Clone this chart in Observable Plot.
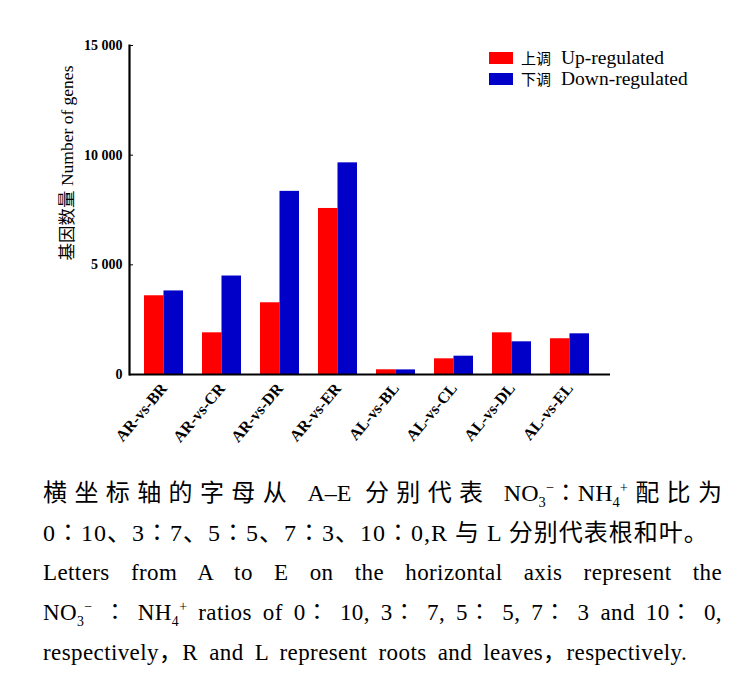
<!DOCTYPE html>
<html><head><meta charset="utf-8">
<script src="https://cdn.jsdelivr.net/npm/d3@7"></script>
<script src="https://cdn.jsdelivr.net/npm/@observablehq/plot@0.6"></script>
<style>
body{margin:0;background:#fff;}
#wrap{position:relative;width:747px;}
#chart svg{overflow:visible;display:block;}
.legend{position:absolute;left:489px;top:47px;font-family:"Liberation Serif",serif;font-size:19.5px;color:#000;}
.legend .row{display:flex;align-items:center;height:21px;}
.sw{width:24px;height:12px;margin-right:8px;}
.cn{font-family:"Noto Sans CJK SC",sans-serif;font-size:15px;margin-right:10px;}
.caption{margin:8px 0 0 43px;width:679px;font-family:"Liberation Serif","Noto Sans CJK SC",serif;color:#000;}
.caption div{height:40px;line-height:40px;white-space:nowrap;}
.caption .zh{font-size:24px;}
.caption .en{font-size:23px;letter-spacing:0.4px;word-spacing:2px;}
.caption sub,.caption sup{line-height:0;font-size:60%;}
.j{text-align:justify;text-align-last:justify;white-space:normal !important;}
</style></head>
<body>
<div id="wrap">
<div id="chart"></div>
<div class="legend" id="legend"></div>
<div class="caption">
<div class="zh j">横坐标轴的字母从 A–E 分别代表 NO<sub>3</sub><sup>−</sup>∶NH<sub>4</sub><sup>+</sup>配比为</div>
<div class="zh" style="letter-spacing:1px">0∶10、3∶7、5∶5、7∶3、10∶0,R 与 L 分别代表根和叶。</div>
<div class="en j">Letters from A to E on the horizontal axis represent the</div>
<div class="en j">NO<sub>3</sub><sup>−</sup>&nbsp;∶&nbsp;NH<sub>4</sub><sup>+</sup> ratios of 0∶&nbsp;10, 3∶&nbsp;7, 5∶&nbsp;5, 7∶&nbsp;3 and 10∶&nbsp;0,</div>
<div class="en" style="word-spacing:5px">respectively，R and L represent roots and leaves，respectively.</div>
</div>
</div>
<script>
const categories = ["AR-vs-BR","AR-vs-CR","AR-vs-DR","AR-vs-ER","AL-vs-BL","AL-vs-CL","AL-vs-DL","AL-vs-EL"];
const upValues   = [3590, 1900, 3270, 7570, 215, 715, 1900, 1630];
const downValues = [3810, 4490, 8350, 9650, 210, 835, 1490, 1855];
const seriesNamesZh = ["上调", "下调"];
const seriesNamesEn = ["Up-regulated", "Down-regulated"];
const seriesColors = ["#ff0000", "#0000c8"];
const yTicks = [0, 5000, 10000, 15000];
const yLabel = "基因数量 Number of genes";

const W = 747, H = 465, ML = 129, MR = 137, MT = 45, MB = 91;
const PI = 0.335, PO = 0.27;
const step = (W - ML - MR) / (categories.length - PI + 2 * PO);
const half = step * (1 - PI) / 2;
const rows = categories.map((c, i) => ({c, up: upValues[i], down: downValues[i]}));
const fmt = d3.formatLocale({decimal: ".", thousands: " ", grouping: [3], currency: ["", ""]}).format(",");
const serif = "'Liberation Serif','Noto Sans CJK SC',serif";

const chart = Plot.plot({
  width: W, height: H,
  marginLeft: ML, marginRight: MR, marginTop: MT, marginBottom: MB,
  style: {fontFamily: serif, fontWeight: "bold", fontSize: "14px", color: "#000", background: "#fff"},
  x: {type: "band", domain: categories, paddingInner: PI, paddingOuter: PO, align: 0.4, label: null},
  y: {domain: [0, 15000], label: null},
  marks: [
    Plot.barY(rows, {x: "c", y: "up", fill: seriesColors[0], insetRight: half}),
    Plot.barY(rows, {x: "c", y: "down", fill: seriesColors[1], insetLeft: half}),
    Plot.ruleY([0], {strokeWidth: 2.2}),
    Plot.frame({anchor: "left", strokeWidth: 2.2}),
    Plot.axisY({ticks: yTicks, tickFormat: fmt, tickSize: -4, tickPadding: 11, fontSize: 14, fontWeight: "bold", label: null}),
    Plot.axisX({tickRotate: -50, tickSize: 0, tickPadding: 11, fontSize: 16, fontWeight: "bold", label: null}),
    Plot.text([yLabel], {frameAnchor: "left", textAnchor: "middle", rotate: -90, dx: -62, dy: -47, fontSize: 17.5, fontWeight: "normal", fontFamily: serif})
  ]
});
document.getElementById("chart").append(chart);

const lg = d3.select("#legend");
seriesNamesEn.forEach((n, i) => {
  const r = lg.append("div").attr("class", "row");
  r.append("div").attr("class", "sw").style("background", seriesColors[i]);
  r.append("span").attr("class", "cn").text(seriesNamesZh[i]);
  r.append("span").text(n);
});
</script>
</body></html>
